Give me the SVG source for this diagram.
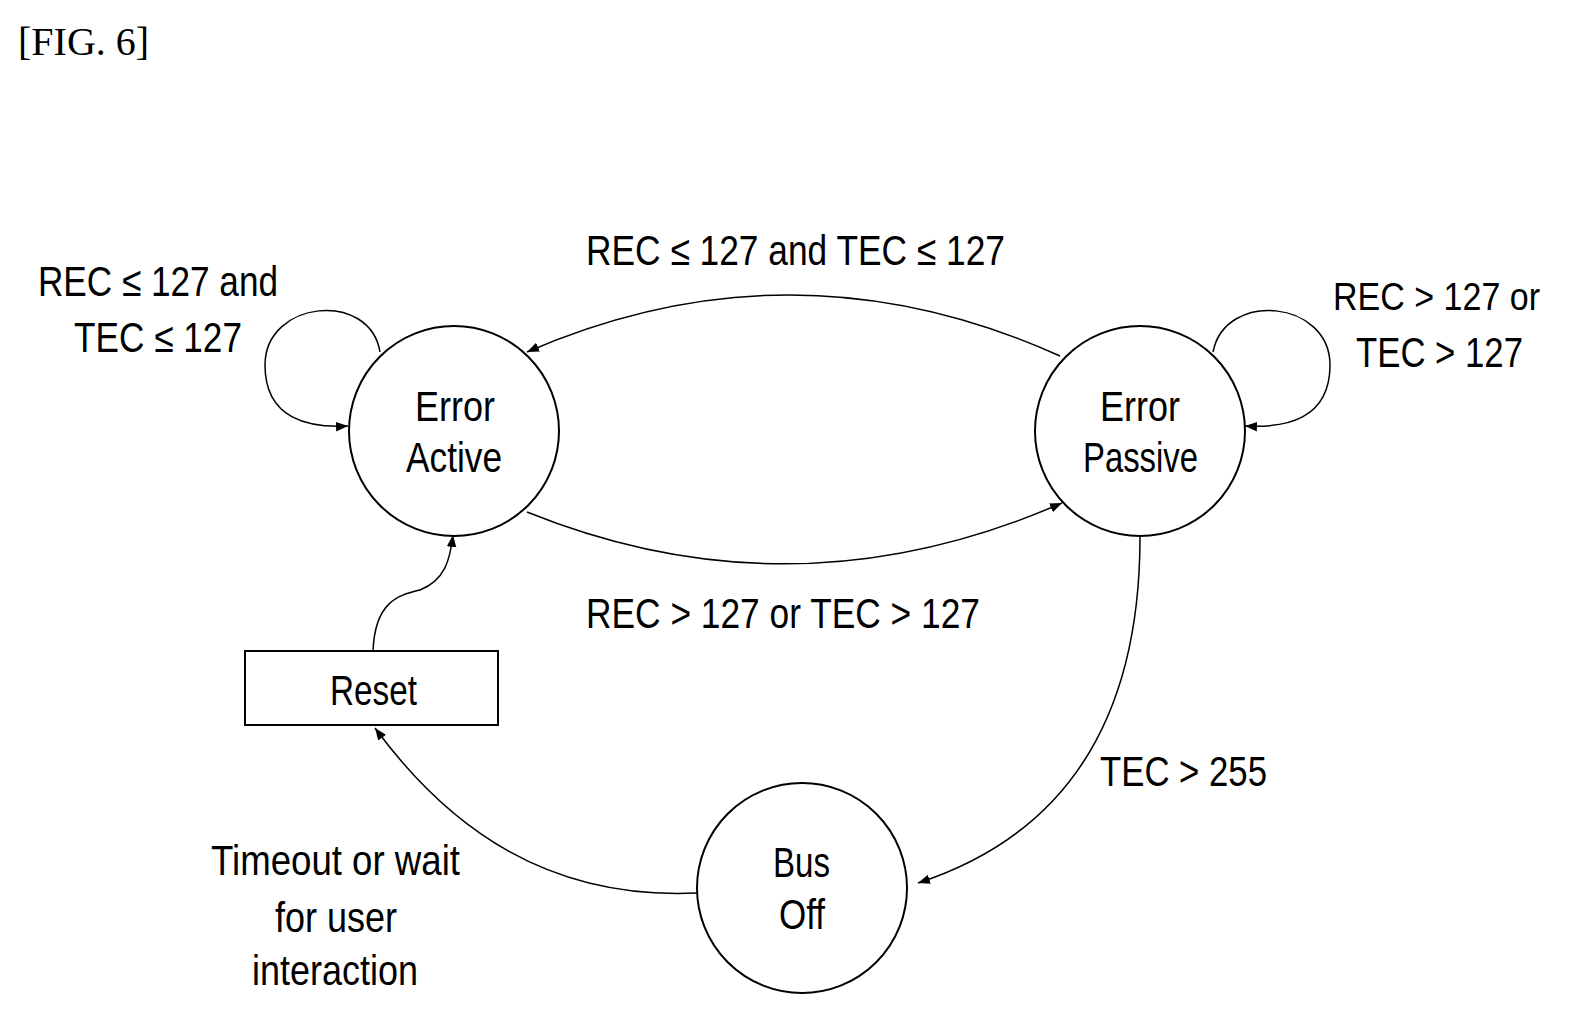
<svg xmlns="http://www.w3.org/2000/svg" width="1585" height="1024" viewBox="0 0 1585 1024">
<style>
text{font-family:"Liberation Sans",Arial,sans-serif;font-size:42px;fill:#000}
.n{fill:#fff;stroke:#000;stroke-width:2}
.c{fill:none;stroke:#000;stroke-width:1.5;marker-end:url(#a)}
</style>
<defs><marker id="a" viewBox="0 0 10 10" refX="10" refY="5" markerWidth="12" markerHeight="12" markerUnits="userSpaceOnUse" orient="auto"><path d="M0,1 L10,5 L0,9 z" fill="#000"/></marker></defs>
<rect width="1585" height="1024" fill="#fff"/>
<text x="18" y="55" style="font-family:'Liberation Serif',serif;font-size:40px">[FIG. 6]</text>
<g id="connectors">
<path class="c" d="M1060,356 Q794,236 527,352"/>
<path class="c" d="M527,512 Q794,620 1062,503"/>
<path class="c" d="M380,352 C370,290 265,300 265,365 C265,420 310,428 348,426"/>
<path class="c" d="M1213,352 C1225,290 1330,300 1330,365 C1330,420 1285,428 1245,426"/>
<path class="c" d="M1140,537 C1140,700 1080,830 918,883"/>
<path class="c" d="M697,893 C550,900 450,830 375,728"/>
<path class="c" d="M373,651 C375,600 400,595 420,590 C445,580 450,560 453,535"/>
</g>
<g id="labels">
<text x="586" y="265" textLength="419" lengthAdjust="spacingAndGlyphs">REC ≤ 127 and TEC ≤ 127</text>
<text x="586" y="628" textLength="394" lengthAdjust="spacingAndGlyphs">REC &gt; 127 or TEC &gt; 127</text>
<text x="38" y="296" textLength="240" lengthAdjust="spacingAndGlyphs">REC ≤ 127 and</text>
<text x="74" y="352" textLength="168" lengthAdjust="spacingAndGlyphs">TEC ≤ 127</text>
<text x="1333" y="310" textLength="207" lengthAdjust="spacingAndGlyphs" style="font-size:38px">REC &gt; 127 or</text>
<text x="1356" y="367" textLength="167" lengthAdjust="spacingAndGlyphs">TEC &gt; 127</text>
<text x="1100" y="786" textLength="167" lengthAdjust="spacingAndGlyphs">TEC &gt; 255</text>
<text x="211" y="875" textLength="249" lengthAdjust="spacingAndGlyphs">Timeout or wait</text>
<text x="275" y="932" textLength="122" lengthAdjust="spacingAndGlyphs">for user</text>
<text x="252" y="985" textLength="166" lengthAdjust="spacingAndGlyphs">interaction</text>
</g>
<g id="error-active"><circle class="n" cx="454" cy="431" r="105"/>
<text x="415" y="421" textLength="80" lengthAdjust="spacingAndGlyphs">Error</text>
<text x="406" y="472" textLength="96" lengthAdjust="spacingAndGlyphs">Active</text></g>
<g id="error-passive"><circle class="n" cx="1140" cy="431" r="105"/>
<text x="1100" y="421" textLength="80" lengthAdjust="spacingAndGlyphs">Error</text>
<text x="1083" y="472" textLength="115" lengthAdjust="spacingAndGlyphs">Passive</text></g>
<g id="bus-off"><circle class="n" cx="802" cy="888" r="105"/>
<text x="773" y="877" textLength="57" lengthAdjust="spacingAndGlyphs">Bus</text>
<text x="779" y="929" textLength="46" lengthAdjust="spacingAndGlyphs">Off</text></g>
<g id="reset"><rect class="n" x="245" y="651" width="253" height="74"/>
<text x="330" y="705" textLength="87" lengthAdjust="spacingAndGlyphs">Reset</text></g>
</svg>
